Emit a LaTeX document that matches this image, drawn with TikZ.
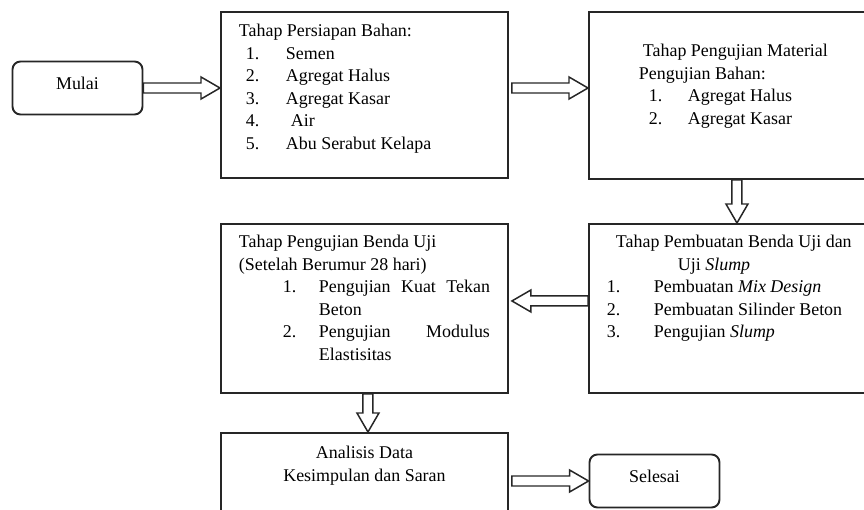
\documentclass[tikz,border=0pt]{standalone}
\usepackage{fontspec}
\setmainfont{Liberation Serif}
\usetikzlibrary{calc}

% text of a stage box: height, top gap, body
\newcommand{\stagetext}[3]{\parbox[t][#1][t]{5.02cm}{\selectfont\vspace*{#2}#3}}

\tikzset{
  term/.style={draw=black!85, line width=1.1pt, rounded corners=0.16cm,
    minimum width=2.6cm, minimum height=1.06cm, text height=0.25cm, text depth=0.2cm,
    font=\fontsize{10.2}{12.8}\selectfont},
  stage/.style={draw=black!85, line width=1.1pt, anchor=north west,
    inner xsep=0.36cm, inner ysep=0pt, font=\fontsize{10.2}{12.8}\selectfont},
  hollow/.style={draw=black!85, line width=0.85pt,
    to path={let \p1=(\tikztostart), \p2=(\tikztotarget),
      \p3=($(\p2)!0.38cm!(\p1)$) in
      ($(\p1)!0.1cm!90:(\p2)$) -- ($(\p3)!0.1cm!-90:(\p1)$)
      -- ($(\p3)!0.22cm!-90:(\p1)$) -- (\p2)
      -- ($(\p3)!0.22cm!90:(\p1)$) -- ($(\p3)!0.1cm!90:(\p1)$)
      -- ($(\p1)!0.1cm!-90:(\p2)$) -- cycle}}
}

\begin{document}
\begin{tikzpicture}
  \useasboundingbox (0,0) rectangle (17.28,10.18);

  \node[term] (mulai) at (1.55,8.42) {Mulai};
  \node[stage] (bahan) at (4.40,9.96) {\stagetext{3.32cm}{0.25cm}{%
    Tahap Persiapan Bahan:\\
    \hspace*{0.14cm}\makebox[0.8cm][l]{1.}Semen\\
    \hspace*{0.14cm}\makebox[0.8cm][l]{2.}Agregat Halus\\
    \hspace*{0.14cm}\makebox[0.8cm][l]{3.}Agregat Kasar\\
    \hspace*{0.14cm}\makebox[0.8cm][l]{4.}\hspace{0.1cm}Air\\
    \hspace*{0.14cm}\makebox[0.8cm][l]{5.}Abu Serabut Kelapa}};
  \node[stage] (material) at (11.76,9.96) {\stagetext{3.34cm}{0.65cm}{%
    \hspace*{0.72cm}Tahap Pengujian Material\\
    \hspace*{0.64cm}Pengujian Bahan:\\
    \hspace*{0.84cm}\makebox[0.78cm][l]{1.}Agregat Halus\\
    \hspace*{0.84cm}\makebox[0.78cm][l]{2.}Agregat Kasar}};
  \node[stage] (pembuatan) at (11.76,5.72) {\stagetext{3.38cm}{0.23cm}{%
    \hspace*{0.18cm}Tahap Pembuatan Benda Uji dan\\
    \hspace*{1.42cm}Uji \textit{Slump}\\
    \makebox[0.94cm][l]{1.}Pembuatan \textit{Mix Design}\\
    \makebox[0.94cm][l]{2.}Pembuatan Silinder Beton\\
    \makebox[0.94cm][l]{3.}Pengujian \textit{Slump}}};
  \node[stage] (bendauji) at (4.40,5.72) {\stagetext{3.38cm}{0.23cm}{%
    Tahap Pengujian Benda Uji\\
    (Setelah Berumur 28 hari)\par
    \hangindent=1.6cm\hangafter=1
    \hspace*{0.88cm}\makebox[0.72cm][l]{1.}Pengujian\hfill Kuat\hfill Tekan\\
    Beton\par
    \hangindent=1.6cm\hangafter=1
    \hspace*{0.88cm}\makebox[0.72cm][l]{2.}Pengujian\hfill Modulus\\
    Elastisitas\par}};
  \node[stage] (analisis) at (4.40,1.54) {\stagetext{2.2cm}{0.27cm}{%
    \centering Analisis Data\\
    Kesimpulan dan Saran}};
  \node[term] (selesai) at (13.09,0.56) {Selesai};

  % block arrows
  \draw[hollow] (mulai.east) to (mulai.east -| bahan.west);
  \draw[hollow] ($(bahan.east |- mulai.east)+(0.06,0)$) to (mulai.east -| material.west);
  \draw[hollow] ($(material.south)+(0.09,0)$) to ($(pembuatan.north)+(0.09,0)$);
  \draw[hollow] ($(pembuatan.west)+(0,0.15)$) to ($(bendauji.east)+(0.06,0.15)$);
  \draw[hollow] ($(bendauji.south)+(0.07,0)$) to ($(analisis.north)+(0.07,0)$);
  \draw[hollow] ($(analisis.east |- selesai.west)+(0.06,0)$) to (selesai.west);
\end{tikzpicture}
\end{document}
